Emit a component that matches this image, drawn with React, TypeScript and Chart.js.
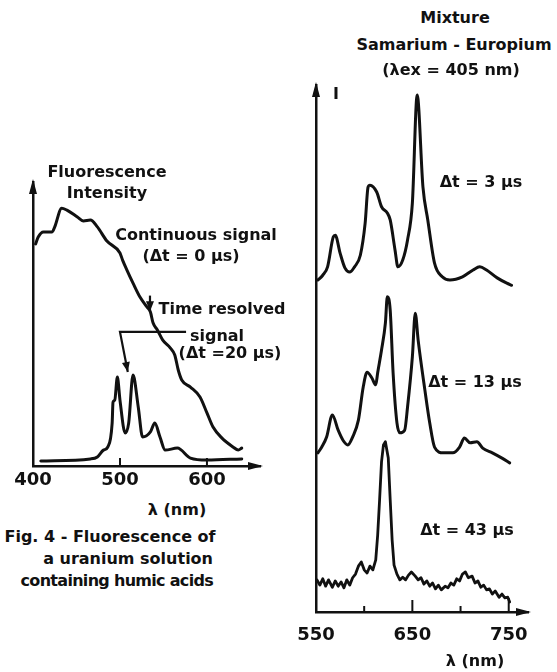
import React, { useEffect, useRef } from "react";
import { Chart, registerables } from "chart.js";

Chart.register(...registerables);

// ---------- Left panel: uranium solution with humic acids ----------
const leftTickLabels = [400, 500, 600];
const leftTickMarks = [500, 600];
const contWl = [403, 406, 412, 422, 425, 433, 439, 451, 458, 466, 474, 485, 500, 503, 508, 515, 523, 531, 535, 538, 543, 549, 558, 563, 567, 571, 581, 592, 600, 607, 617, 630, 636, 640];
const contI = [78.2, 80.6, 82.4, 82.4, 84.2, 90.8, 90.1, 87.7, 86.3, 86.6, 84.2, 79.2, 75.0, 72.5, 69.0, 64.4, 59.5, 56.0, 54.2, 50.4, 47.9, 44.4, 41.5, 39.1, 33.8, 30.3, 27.8, 24.3, 18.7, 13.7, 9.9, 6.7, 5.6, 6.3];
const trWl = [409, 466, 474, 481, 486, 491, 492, 494, 497, 500, 506, 510, 515, 521, 526, 535, 540, 546, 552, 566, 581, 600, 640];
const trI = [1.8, 2.5, 3.2, 5.6, 6.7, 15.1, 22.5, 23.2, 31.3, 23.2, 11.6, 15.1, 32.0, 20.8, 10.2, 12.0, 15.1, 10.2, 5.6, 6.3, 2.8, 2.1, 2.5];

// ---------- Right panel: samarium - europium mixture ----------
const rightTickLabels = [550, 650, 750];
const rightTickMarks = [600, 650, 700, 750];
const dt3Wl = [552, 557, 562, 568, 570, 575, 580, 585, 590, 596, 601, 604, 606, 613, 618, 624, 627, 632, 635, 640, 645, 650, 655, 661, 666, 673, 681, 689, 702, 713, 720, 727, 738, 748, 753];
const dt3I = [63.0, 63.9, 65.5, 71.2, 71.5, 68.1, 65.3, 64.5, 65.5, 67.7, 73.8, 80.6, 81.0, 79.7, 76.9, 75.7, 74.4, 68.7, 65.5, 66.8, 70.6, 77.6, 98.1, 80.6, 74.4, 66.2, 63.6, 63.0, 63.6, 64.9, 65.5, 64.9, 63.4, 62.4, 62.0];
const dt13Wl = [552, 556, 561, 567, 573, 578, 583, 588, 594, 599, 603, 608, 612, 614, 618, 622, 624, 627, 630, 634, 637, 642, 645, 650, 653, 656, 663, 668, 673, 682, 692, 699, 704, 710, 717, 723, 733, 743, 751];
const dt13I = [30.2, 31.3, 33.2, 37.4, 34.5, 32.6, 31.7, 33.2, 36.4, 42.7, 45.5, 44.4, 43.1, 45.4, 49.7, 54.8, 59.8, 57.3, 45.4, 35.9, 34.0, 34.5, 38.9, 48.4, 56.7, 51.6, 42.1, 35.9, 31.3, 30.2, 30.2, 31.3, 33.0, 32.1, 32.3, 31.1, 30.2, 29.2, 28.3];
const dt43Wl = [551, 554, 557, 560, 563, 567, 570, 573, 576, 579, 582, 585, 588, 591, 594, 597, 600, 603, 606, 609, 612, 614, 616, 618, 620, 622, 625, 627, 629, 631, 634, 637, 640, 643, 646, 649, 653, 656, 659, 662, 665, 668, 671, 674, 677, 680, 684, 687, 690, 693, 696, 699, 702, 705, 708, 712, 715, 718, 721, 724, 727, 730, 733, 736, 740, 743, 746, 749, 751];
const dt43I = [6.1, 5.1, 6.3, 4.9, 6.1, 4.7, 5.9, 4.9, 5.7, 4.6, 6.1, 5.1, 6.5, 7.2, 8.7, 9.5, 8.0, 7.4, 8.7, 8.0, 9.9, 14.6, 21.3, 28.5, 31.7, 32.3, 29.2, 21.3, 13.7, 8.9, 7.2, 6.1, 6.6, 6.1, 7.0, 7.6, 6.8, 6.1, 6.5, 5.3, 5.9, 4.9, 5.5, 4.4, 5.1, 4.2, 4.9, 4.6, 5.5, 5.1, 6.3, 5.9, 7.2, 7.6, 6.5, 6.8, 5.5, 5.9, 4.7, 5.1, 4.2, 4.4, 3.4, 4.0, 2.8, 3.4, 2.7, 2.8, 1.9];

const INK = "#111";
const FAMILY = '"DejaVu Sans", "Liberation Sans", sans-serif';

const zip = (xs: number[], ys: number[]) => xs.map((x, i) => ({ x, y: ys[i] }));

const decorPlugin = {
  id: "decor",
  afterDraw(chart: any, _args: any, opts: any) {
    const { ctx, chartArea: a, scales } = chart;
    const xs = scales.x;
    const ys = scales.y;
    ctx.save();
    ctx.fillStyle = INK;
    ctx.strokeStyle = INK;
    // axis arrowheads
    ctx.beginPath();
    ctx.moveTo(a.left, a.top - 3);
    ctx.lineTo(a.left - 4, a.top + 12);
    ctx.lineTo(a.left + 4, a.top + 12);
    ctx.closePath();
    ctx.fill();
    ctx.beginPath();
    ctx.moveTo(a.right + 3, a.bottom);
    ctx.lineTo(a.right - 12, a.bottom - 4);
    ctx.lineTo(a.right - 12, a.bottom + 4);
    ctx.closePath();
    ctx.fill();
    // inward tick marks
    ctx.lineWidth = 2;
    for (const t of opts.ticks || []) {
      const px = xs.getPixelForValue(t.v);
      ctx.beginPath();
      ctx.moveTo(px, a.bottom);
      ctx.lineTo(px, a.bottom - t.len);
      ctx.stroke();
    }
    // pointer paths
    for (const p of opts.paths || []) {
      const pts = p.pts.map((q: number[]) => [xs.getPixelForValue(q[0]), ys.getPixelForValue(q[1])]);
      ctx.lineWidth = 2.2;
      ctx.beginPath();
      pts.forEach((q: number[], i: number) => (i ? ctx.lineTo(q[0], q[1]) : ctx.moveTo(q[0], q[1])));
      ctx.stroke();
      if (p.arrow) {
        const [x1, y1] = pts[pts.length - 2];
        const [x2, y2] = pts[pts.length - 1];
        const ang = Math.atan2(y2 - y1, x2 - x1);
        const L = 10, W = 4;
        ctx.beginPath();
        ctx.moveTo(x2, y2);
        ctx.lineTo(x2 - L * Math.cos(ang) + W * Math.sin(ang), y2 - L * Math.sin(ang) - W * Math.cos(ang));
        ctx.lineTo(x2 - L * Math.cos(ang) - W * Math.sin(ang), y2 - L * Math.sin(ang) + W * Math.cos(ang));
        ctx.closePath();
        ctx.fill();
      }
    }
    ctx.restore();
  },
};

function lineDs(data: { x: number; y: number }[], mono = true) {
  return {
    data,
    borderColor: INK,
    borderWidth: 3,
    pointRadius: 0,
    fill: false,
    cubicInterpolationMode: mono ? "monotone" : "default",
    tension: mono ? 0.4 : 0,
    borderJoinStyle: "round",
    borderCapStyle: "round",
    clip: 8,
  };
}

function makeOptions(cfg: any) {
  return {
    animation: false,
    responsive: false,
    devicePixelRatio: 1,
    events: [],
    layout: { padding: cfg.padding },
    plugins: {
      legend: { display: false },
      tooltip: { enabled: false },
      title: { display: false },
      decor: cfg.decor,
    },
    scales: {
      x: {
        type: "linear",
        min: cfg.xmin,
        max: cfg.xmax,
        afterFit: (s: any) => {
          s.height = cfg.xHeight;
        },
        grid: { display: false, drawTicks: false },
        border: { display: true, color: INK, width: 2.5 },
        ticks: {
          stepSize: 50,
          includeBounds: false,
          padding: cfg.tickPad,
          color: INK,
          maxRotation: 0,
          autoSkip: false,
          font: { size: 18, weight: "bold", family: FAMILY },
          callback: (v: number) => (cfg.labels.includes(v) ? String(v) : ""),
        },
      },
      y: {
        type: "linear",
        min: 0,
        max: 100,
        afterFit: (s: any) => {
          s.width = 0;
        },
        grid: { display: false, drawTicks: false },
        border: { display: true, color: INK, width: 2.5 },
        ticks: { display: false },
      },
    },
  };
}

const txt = (cx: number, cy: number, size = 16): React.CSSProperties => ({
  position: "absolute",
  left: cx,
  top: cy,
  transform: "translate(-50%, -50%)",
  whiteSpace: "nowrap",
  font: `bold ${size}px ${FAMILY}`,
  color: INK,
  lineHeight: 1,
});

const txtRight = (right: number, cy: number, size = 16, spacing = 0): React.CSSProperties => ({
  position: "absolute",
  right: 557 - right,
  top: cy,
  transform: "translateY(-50%)",
  whiteSpace: "nowrap",
  font: `bold ${size}px ${FAMILY}`,
  letterSpacing: spacing,
  color: INK,
  lineHeight: 1,
});

export default function App() {
  const leftRef = useRef<HTMLCanvasElement>(null);
  const rightRef = useRef<HTMLCanvasElement>(null);

  useEffect(() => {
    const left = new Chart(leftRef.current as HTMLCanvasElement, {
      type: "line",
      data: { datasets: [lineDs(zip(contWl, contI)), lineDs(zip(trWl, trI))] as any },
      options: makeOptions({
        padding: { left: 33, top: 32, right: 20, bottom: 0 },
        xmin: 400,
        xmax: 661,
        xHeight: 34,
        tickPad: 4,
        labels: leftTickLabels,
        decor: {
          ticks: leftTickMarks.map((v) => ({ v, len: 8 })),
          paths: [
            { pts: [[576, 47.2], [500, 47.2], [509, 33.1]], arrow: true },
            { pts: [[534.5, 60], [534.5, 54.5]], arrow: true },
          ],
        },
      }) as any,
      plugins: [decorPlugin as any],
    });
    const right = new Chart(rightRef.current as HTMLCanvasElement, {
      type: "line",
      data: {
        datasets: [
          lineDs(zip(dt3Wl, dt3I)),
          lineDs(zip(dt13Wl, dt13I)),
          { ...lineDs(zip(dt43Wl, dt43I), false), borderWidth: 2.8 },
        ] as any,
      },
      options: makeOptions({
        padding: { left: 36, top: 15, right: 29, bottom: 0 },
        xmin: 550,
        xmax: 770,
        xHeight: 58,
        tickPad: 13,
        labels: rightTickLabels,
        decor: {
          ticks: rightTickMarks.map((v) => ({ v, len: v === 650 ? 12 : v === 750 ? 14 : 6 })),
          paths: [],
        },
      }) as any,
      plugins: [decorPlugin as any],
    });
    return () => {
      left.destroy();
      right.destroy();
    };
  }, []);

  return (
    <div style={{ position: "absolute", left: 0, top: 0, width: 557, height: 672, background: "#fff", overflow: "hidden" }}>
      <canvas ref={leftRef} width={280} height={350} style={{ position: "absolute", left: 0, top: 150, width: 280, height: 350 }} />
      <canvas ref={rightRef} width={277} height={600} style={{ position: "absolute", left: 280, top: 70, width: 277, height: 600 }} />

      <div style={txt(107, 172)}>Fluorescence</div>
      <div style={txt(107, 193)}>Intensity</div>
      <div style={txt(196, 235)}>Continuous signal</div>
      <div style={txt(191, 256)}>(Δt = 0 μs)</div>
      <div style={txt(222, 309)}>Time resolved</div>
      <div style={txt(217, 336)}>signal</div>
      <div style={txt(230, 353)}>(Δt =20 μs)</div>
      <div style={txt(177, 510)}>λ (nm)</div>
      <div style={txt(110, 537)}>Fig. 4 - Fluorescence of</div>
      <div style={txtRight(213, 559, 16)}>a uranium solution</div>
      <div style={txtRight(213, 581, 16, -0.7)}>containing humic acids</div>

      <div style={txt(455, 18)}>Mixture</div>
      <div style={txt(454, 45)}>Samarium - Europium</div>
      <div style={txt(451, 70)}>(λex = 405 nm)</div>
      <div style={txt(336, 94)}>I</div>
      <div style={txt(481, 182)}>Δt = 3 μs</div>
      <div style={txt(475, 382)}>Δt = 13 μs</div>
      <div style={txt(467, 530)}>Δt = 43 μs</div>
      <div style={txt(475, 661)}>λ (nm)</div>
    </div>
  );
}
